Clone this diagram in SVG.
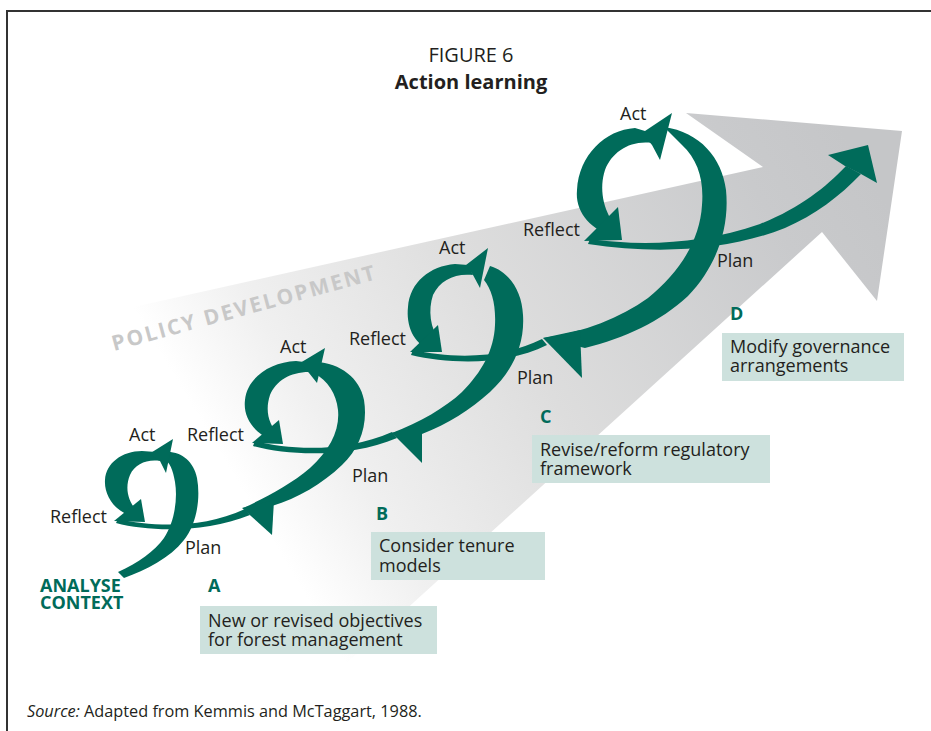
<svg xmlns="http://www.w3.org/2000/svg" width="931" height="731" viewBox="0 0 931 731">
<defs>
<linearGradient id="fade" gradientUnits="userSpaceOnUse" x1="860" y1="160" x2="260" y2="520">
<stop offset="0" stop-color="#c5c6c8"/>
<stop offset="0.15" stop-color="#c9cacc"/>
<stop offset="0.55" stop-color="#dddddd"/>
<stop offset="0.85" stop-color="#f0f0f0"/>
<stop offset="1" stop-color="#ffffff"/>
</linearGradient>
<style>
.g{fill:#006b5a}
.t{font-family:'Open Sans','Liberation Sans',sans-serif;font-size:18px;fill:#231f20}
.l{font-family:'Open Sans','Liberation Sans',sans-serif;font-size:18px;font-weight:bold;fill:#006b5a}
.box{fill:#cde1dd}
</style>
</defs>
<rect width="931" height="731" fill="#ffffff"/>
<g id="policy-arrow">
<path d="M-60 350 L763 167 L686 113 L902 131 L877 301 L822 232 L240 760 Z" fill="url(#fade)"/>
<text transform="translate(114,351) rotate(-15.3)" font-family="'Open Sans','Liberation Sans',sans-serif" font-size="21" font-weight="bold" fill="#c8c8c8" textLength="272" lengthAdjust="spacing">POLICY DEVELOPMENT</text>
</g>
<path id="frame" d="M7 731 V11 H931" fill="none" stroke="#333333" stroke-width="2"/>
<g id="title">
<text class="t" x="471" y="62" text-anchor="middle" style="font-size:20px">FIGURE 6</text>
<text class="t" x="471" y="89" text-anchor="middle" style="font-size:20px;font-weight:bold">Action learning</text>
</g>
<g id="connectors" class="g">
<path d="M118 519 C150 526 200 530 245 509 L250 515 C205 533 150 532 116 523 Z"/>
<path d="M255 441 C290 450 345 453 392 432 L397 438 C350 458 290 456 253 446 Z"/>
<path d="M413 350 C450 358 500 360 542 339 L547 345 C505 366 450 364 411 355 Z"/>
<path d="M590 239 C640 246 700 245 760 224 C800 208 825 188 846 166 L861 174 C840 196 815 215 785 228 C730 250 660 255 588 244 Z"/>
<polygon points="868,145 828,155 845,166 861,174 877,183"/>
</g>
<g id="loop1" class="g">
<path d="M168 452 C182 452 194 462 197 478 C201 500 196 525 184 540 C170 558 146 570 124 578 L118 572 C138 563 155 551 164 538 C174 523 178 500 175 482 C173 470 170 462 163 458 Z"/>
<path d="M132 516 C114 511 104 495 105 480 C106 463 122 451 142 451 L156 452 L160 461 C147 459 135 464 130 475 C125 487 127 501 138 512 Z"/>
<polygon points="173,439 149,454 160,461 166,473"/>
<polygon points="114,521 141,499 145,522"/>
</g>
<g id="loop2" class="g">
<path d="M316 362 C340 363 360 378 364 400 C368 425 360 448 342 465 C322 484 298 498 272 506 L243 508 C265 498 290 485 310 468 C330 450 340 430 338 410 C336 393 328 381 314 373 Z"/>
<polygon points="242,508 272,535 274,500"/>
<path d="M272 440 C252 432 243 416 245 400 C247 378 270 362 296 361 L304 362 L309 372 C290 372 276 381 270 395 C265 410 268 425 280 436 Z"/>
<polygon points="325,348 300,363 309,373 317,383"/>
<polygon points="252,443 279,420 283,444"/>
</g>
<g id="loop3" class="g">
<path d="M490 266 C510 272 522 292 523 315 C525 345 512 372 490 392 C470 410 448 424 422 434 L392 433 C420 422 445 408 462 392 C482 372 494 350 495 325 C496 305 492 290 484 280 Z"/>
<polygon points="392,433 422,463 422,424"/>
<path d="M430 350 C413 343 406 325 408 307 C410 282 430 266 455 264 L468 265 L473 275 C455 273 440 280 433 295 C428 310 430 328 440 342 Z"/>
<polygon points="488,248 466,265 473,275 480,288"/>
<polygon points="410,352 438,325 442,352"/>
</g>
<g id="loop4" class="g">
<path d="M664 127 C700 132 722 158 726 190 C730 230 715 268 688 296 C660 322 625 338 585 348 L543 338 C585 332 620 318 648 298 C680 272 700 240 702 205 C704 180 698 160 682 145 Z"/>
<polygon points="543,338 582,378 580,330"/>
<path d="M612 236 C588 228 575 210 577 190 C579 155 605 130 635 128 L645 131 L652 143 C630 140 612 152 605 170 C599 188 603 210 615 225 Z"/>
<polygon points="672,113 642,133 652,145 660,160"/>
<polygon points="584,241 618,207 622,240"/>
</g>
<g id="labels">
<text class="t" x="129" y="441">Act</text>
<text class="t" x="50" y="523">Reflect</text>
<text class="t" x="185" y="554">Plan</text>
<text class="t" x="187" y="441">Reflect</text>
<text class="t" x="280" y="353">Act</text>
<text class="t" x="352" y="482">Plan</text>
<text class="t" x="349" y="345">Reflect</text>
<text class="t" x="439" y="254">Act</text>
<text class="t" x="517" y="384">Plan</text>
<text class="t" x="523" y="236">Reflect</text>
<text class="t" x="620" y="120">Act</text>
<text class="t" x="717" y="267">Plan</text>
</g>
<g id="start">
<text class="l" x="40" y="592">ANALYSE</text>
<text class="l" x="40" y="609">CONTEXT</text>
</g>
<g id="stepA">
<text class="l" x="208" y="592">A</text>
<rect class="box" x="200" y="606" width="237" height="48"/>
<text class="t" x="208" y="627">New or revised objectives</text>
<text class="t" x="208" y="646">for forest management</text>
</g>
<g id="stepB">
<text class="l" x="376" y="520">B</text>
<rect class="box" x="371" y="532" width="174" height="48"/>
<text class="t" x="379" y="552">Consider tenure</text>
<text class="t" x="379" y="572">models</text>
</g>
<g id="stepC">
<text class="l" x="540" y="423">C</text>
<rect class="box" x="532" y="435" width="238" height="48"/>
<text class="t" x="540" y="456">Revise/reform regulatory</text>
<text class="t" x="540" y="475">framework</text>
</g>
<g id="stepD">
<text class="l" x="730" y="320">D</text>
<rect class="box" x="722" y="333" width="182" height="48"/>
<text class="t" x="730" y="353">Modify governance</text>
<text class="t" x="730" y="372">arrangements</text>
</g>
<g id="source">
<text class="t" x="27" y="717" style="font-size:16.3px"><tspan font-style="italic">Source:</tspan> Adapted from Kemmis and McTaggart, 1988.</text>
</g>
</svg>
